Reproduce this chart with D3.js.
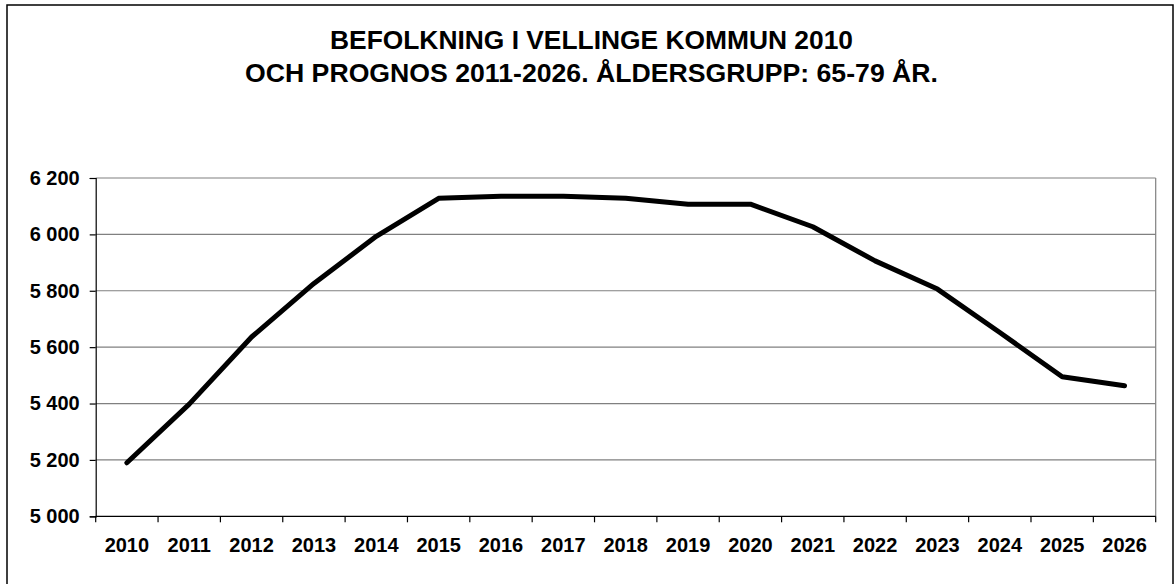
<!DOCTYPE html>
<html lang="sv">
<head>
<meta charset="utf-8">
<title>Befolkning i Vellinge kommun</title>
<script src="https://d3js.org/d3.v7.min.js"></script>
<style>
    body { margin: 0; background: #fff; }
    svg text { font-family: "Liberation Sans", Arial, sans-serif; font-weight: bold; fill: #000; }
</style>
</head>
<body>
<div id="chart"></div>
<script>
// data
var years = ["2010", "2011", "2012", "2013", "2014", "2015", "2016", "2017", "2018",
             "2019", "2020", "2021", "2022", "2023", "2024", "2025", "2026"];
var population = [5190, 5398, 5636, 5826, 5993, 6128, 6135, 6135, 6128,
                  6107, 6107, 6027, 5906, 5806, 5652, 5495, 5463];
var yTicks = [5000, 5200, 5400, 5600, 5800, 6000, 6200];
var titleLines = ["BEFOLKNING I VELLINGE KOMMUN 2010",
                  "OCH PROGNOS 2011-2026. ÅLDERSGRUPP: 65-79 ÅR."];

var W = 1175, H = 584;
var margin = {top: 178, right: 19.3, bottom: 67.7, left: 95.7};
var width = W - margin.left - margin.right,
    height = H - margin.top - margin.bottom;

var svg = d3.select("#chart").append("svg")
    .attr("width", W)
    .attr("height", H);

// outer frame
svg.append("rect")
    .attr("x", 7).attr("y", 5)
    .attr("width", 1166).attr("height", 590)
    .attr("fill", "none")
    .attr("stroke", "#000")
    .attr("stroke-width", 1.5);

// title
svg.selectAll(".title")
    .data(titleLines)
    .enter().append("text")
    .attr("class", "title")
    .attr("x", 591.5)
    .attr("y", function(d, i) { return 49 + i * 33; })
    .attr("text-anchor", "middle")
    .attr("textLength", function(d, i) { return i == 0 ? 523 : 693; })
    .attr("lengthAdjust", "spacingAndGlyphs")
    .style("font-size", "25px")
    .text(function(d) { return d; });

var x = d3.scaleBand().domain(years).range([0, width]);
var y = d3.scaleLinear().domain([5000, 6200]).range([height, 0]);

var fmt = d3.formatLocale({decimal: ",", thousands: " ", grouping: [3], currency: ["", ""]}).format(",d");

var g = svg.append("g")
    .attr("transform", "translate(" + margin.left + "," + margin.top + ")");

// gridlines
g.selectAll(".grid")
    .data(yTicks.slice(1))
    .enter().append("line")
    .attr("x1", 0).attr("x2", width)
    .attr("y1", function(d) { return y(d); })
    .attr("y2", function(d) { return y(d); })
    .attr("stroke", "#808080")
    .attr("stroke-width", 1.2);

// right side of plot area
g.append("line")
    .attr("x1", width).attr("x2", width)
    .attr("y1", 0).attr("y2", height)
    .attr("stroke", "#808080")
    .attr("stroke-width", 1.2);

// y axis
var yAxis = g.append("g")
    .call(d3.axisLeft(y).tickValues(yTicks).tickFormat(fmt).tickSize(6).tickPadding(10));
yAxis.select(".domain").attr("stroke", "#000").attr("stroke-width", 1.2);
yAxis.selectAll(".tick line").attr("stroke", "#000").attr("stroke-width", 1.2);
yAxis.selectAll("text").style("font-size", "20px").attr("font-family", null).attr("fill", "#000");

// x axis with ticks between categories
var xAxis = g.append("g")
    .attr("transform", "translate(0," + height + ")")
    .call(d3.axisBottom(x).tickSize(0).tickPadding(22));
xAxis.select(".domain").remove();
xAxis.selectAll("text").style("font-size", "20px").attr("font-family", null).attr("fill", "#000");

g.append("line")
    .attr("x1", 0).attr("x2", width)
    .attr("y1", height).attr("y2", height)
    .attr("stroke", "#000")
    .attr("stroke-width", 1.2);

g.selectAll(".xtick")
    .data(years.concat(["end"]))
    .enter().append("line")
    .attr("x1", function(d, i) { return i * x.step(); })
    .attr("x2", function(d, i) { return i * x.step(); })
    .attr("y1", height).attr("y2", height + 6)
    .attr("stroke", "#000")
    .attr("stroke-width", 1.2);

// the series
var line = d3.line()
    .x(function(d, i) { return x(years[i]) + x.bandwidth() / 2; })
    .y(function(d) { return y(d); });

g.append("path")
    .datum(population)
    .attr("d", line)
    .attr("fill", "none")
    .attr("stroke", "#000")
    .attr("stroke-width", 5)
    .attr("stroke-linejoin", "round")
    .attr("stroke-linecap", "round");
</script>
</body>
</html>
